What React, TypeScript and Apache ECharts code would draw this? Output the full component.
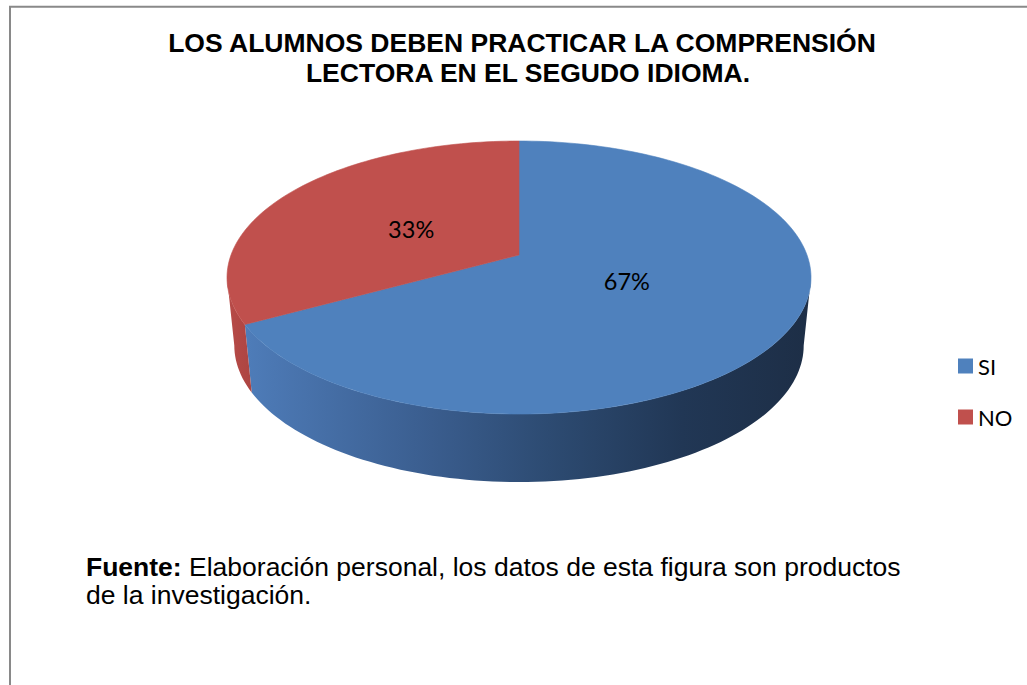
import React, { useEffect, useRef } from "react";
import * as echarts from "echarts";

const categories = ["SI", "NO"];
const values = [67, 33];
const colors = ["#4F81BD", "#C0504D"];
const titleLines = ["LOS ALUMNOS DEBEN PRACTICAR LA COMPRENSIÓN", "LECTORA EN EL SEGUDO IDIOMA."];
const sourceBold = "Fuente:";
const sourceText = " Elaboración personal, los datos de esta figura son productos\nde la investigación.";

// pie layout (3D, perspective)
const CX = 519;
const CY = 255;
const RX = 288;
const RY = 132.8;
const PERSP = 0.165;
const DEPTH = 68;
const BOTTOM_SHRINK = 0.975;
const LABEL_R = 0.435;

function proj(phi: number, r: number, depth: number): number[] {
  const u = Math.sin(phi) * r;
  const v = -Math.cos(phi) * r;
  const s = 1 / (1 - PERSP * v);
  const shrink = depth > 0 ? BOTTOM_SHRINK : 1;
  return [CX + RX * u * s * shrink, CY + RY * v * s + depth];
}

function arc(a: number, b: number, depth: number): number[][] {
  const pts: number[][] = [];
  const n = Math.max(2, Math.ceil(((b - a) / (Math.PI * 2)) * 240));
  for (let k = 0; k <= n; k++) {
    pts.push(proj(a + ((b - a) * k) / n, 1, depth));
  }
  return pts;
}

const wallStops: Record<number, { offset: number; color: string }[]> = {
  0: [
    { offset: 0, color: "#5080BD" },
    { offset: 0.08, color: "#4B77B2" },
    { offset: 0.35, color: "#3A5D8E" },
    { offset: 0.55, color: "#2D4B72" },
    { offset: 0.78, color: "#213755" },
    { offset: 1, color: "#1D2E46" },
  ],
  1: [
    { offset: 0, color: "#B84B48" },
    { offset: 0.05, color: "#AA4340" },
    { offset: 1, color: "#7A2C2A" },
  ],
};

function makeRender(idx: number) {
  return (params: any, api: any) => {
    const total = values.reduce((s, v) => s + v, 0);
    let before = 0;
    for (let k = 0; k < idx; k++) before += values[k];
    const val = api.value(0);
    const a = (before / total) * Math.PI * 2;
    const b = a + (val / total) * Math.PI * 2;
    const children: any[] = [];

    // visible outer wall (front part between silhouette tangents)
    const t1 = Math.acos(-PERSP);
    const t2 = Math.PI * 2 - t1;
    const lo = Math.max(a, t1);
    const hi = Math.min(b, t2);
    if (hi > lo) {
      const top = arc(lo, hi, 0);
      const bottom = arc(lo, hi, DEPTH).reverse();
      children.push({
        type: "polygon",
        z2: 1,
        shape: { points: top.concat(bottom) },
        style: {
          fill: new echarts.graphic.LinearGradient(CX - RX - 4, 0, CX + RX + 4, 0, wallStops[idx], true),
          stroke: null,
        },
      });
    }

    // top face
    const face = [[CX, CY]].concat(arc(a, b, 0));
    children.push({
      type: "polygon",
      z2: 5,
      shape: { points: face },
      style: { fill: colors[idx], stroke: colors[idx], lineWidth: 0.6 },
    });

    // percentage label
    const mid = (a + b) / 2;
    const lx = CX + RX * LABEL_R * Math.sin(mid);
    const ly = CY - RY * 0.9 * LABEL_R * Math.cos(mid);
    children.push({
      type: "text",
      z2: 10,
      x: lx,
      y: ly,
      style: {
        text: Math.round((val / total) * 100) + "%",
        align: "center",
        verticalAlign: "middle",
        fontSize: 23.5,
        fontFamily: "Lato, 'Open Sans', sans-serif",
        fill: "#000000",
      },
    });
    return { type: "group", children };
  };
}

export default function App() {
  const ref = useRef<HTMLDivElement>(null);
  useEffect(() => {
    document.body.style.margin = "0";
    const chart = echarts.init(ref.current as HTMLDivElement, null, { renderer: "svg" });
    const option: any = {
      animation: false,
      backgroundColor: "#FFFFFF",
      color: colors,
      legend: {
        orient: "vertical",
        left: 953,
        top: 350,
        itemWidth: 15,
        itemHeight: 15,
        itemGap: 29,
        icon: "rect",
        data: categories,
        selectedMode: false,
        textStyle: { fontSize: 22, fontFamily: "Lato, 'Open Sans', sans-serif", color: "#000000", padding: [0, 0, 0, 0] },
        itemStyle: { borderWidth: 0 },
      },
      graphic: [
        {
          type: "rect",
          shape: { x: 10, y: 6.7, width: 1100, height: 800 },
          style: { fill: "none", stroke: "#898989", lineWidth: 2 },
          silent: true,
        },
        {
          type: "text",
          x: 522,
          y: 43,
          style: {
            text: titleLines[0],
            align: "center",
            verticalAlign: "middle",
            fontSize: 26.5,
            fontWeight: "bold",
            fontFamily: "'Liberation Sans', Arial, sans-serif",
            fill: "#000000",
          },
        },
        {
          type: "text",
          x: 528,
          y: 73,
          style: {
            text: titleLines[1],
            align: "center",
            verticalAlign: "middle",
            fontSize: 26.5,
            fontWeight: "bold",
            fontFamily: "'Liberation Sans', Arial, sans-serif",
            fill: "#000000",
          },
        },
        {
          type: "text",
          x: 86,
          y: 553,
          style: {
            text: "{b|" + sourceBold + "}{n|" + sourceText.split("\n")[0] + "}\n{n|" + sourceText.split("\n")[1] + "}",
            align: "left",
            verticalAlign: "top",
            rich: {
              b: { fontSize: 26.5, fontWeight: "bold", fontFamily: "'Liberation Sans', Arial, sans-serif", fill: "#000", lineHeight: 28 },
              n: { fontSize: 26.5, fontFamily: "'Liberation Sans', Arial, sans-serif", fill: "#000", lineHeight: 28 },
            },
          },
        },
      ],
      series: categories.map((name, i) => ({
        type: "custom",
        name,
        coordinateSystem: "none",
        itemStyle: { color: colors[i] },
        data: [values[i]],
        renderItem: makeRender(i),
      })),
    };
    chart.setOption(option);
    return () => chart.dispose();
  }, []);
  return <div ref={ref} style={{ width: 1027, height: 685 }} />;
}
